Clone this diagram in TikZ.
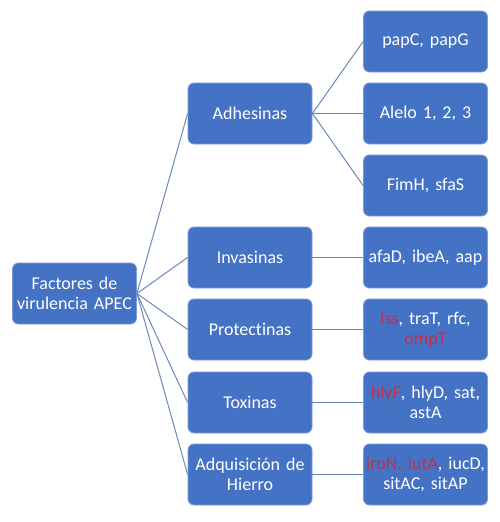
\documentclass[tikz,border=0pt]{standalone}
\usepackage{fontspec}
\setmainfont[Ligatures=NoCommon]{Carlito}
\definecolor{boxblue}{HTML}{4472C4}
\definecolor{linec}{HTML}{6A88BE}
\definecolor{redt}{HTML}{C0304A}
\begin{document}
\begin{tikzpicture}[x=1pt,y=-1pt,
  box/.style={draw=boxblue!70!white, line width=0.8pt, fill=boxblue, rounded corners=6pt,
    minimum width=124pt, minimum height=61pt, text width=122pt, align=center,
    text=white, font=\fontsize{18}{20}\selectfont, inner sep=1pt},
  conn/.style={draw=linec, line width=1pt}]
\useasboundingbox (0,0) rectangle (500,522);
\node[box] (root) at (74.5,293.5) {Factores de\\virulencia APEC};
\node[box] (adh) at (250,113.5) {Adhesinas};
\node[box] (inv) at (250,257.5) {Invasinas};
\node[box] (pro) at (250,329.5) {Protectinas};
\node[box] (tox) at (250,402.5) {Toxinas};
\node[box] (hie) at (250,474.5) {Adquisición de\\Hierro};
\node[box] (pap) at (425.5,41.5) {papC, papG};
\node[box] (ale) at (425.5,113.5) {Alelo 1, 2, 3};
\node[box] (fim) at (425.5,185.5) {FimH, sfaS};
\node[box] (afa) at (425.5,257.5) {afaD, ibeA, aap};
\node[box] (iss) at (425.5,329.5) {\textcolor{redt}{iss}, traT, rfc,\\\textcolor{redt}{ompT}};
\node[box] (hly) at (425.5,402.5) {\textcolor{redt}{hlyF}, hlyD, sat,\\astA};
\node[box] (iro) at (425.5,474.5) {\textcolor{redt}{iroN, iutA}, iucD,\\sitAC, sitAP};
\foreach \t in {adh,inv,pro,tox,hie} \draw[conn] (root.east) -- (\t.west);
\foreach \t in {pap,ale,fim} \draw[conn] (adh.east) -- (\t.west);
\draw[conn] (inv.east) -- (afa.west);
\draw[conn] (pro.east) -- (iss.west);
\draw[conn] (tox.east) -- (hly.west);
\draw[conn] (hie.east) -- (iro.west);
\end{tikzpicture}
\end{document}
